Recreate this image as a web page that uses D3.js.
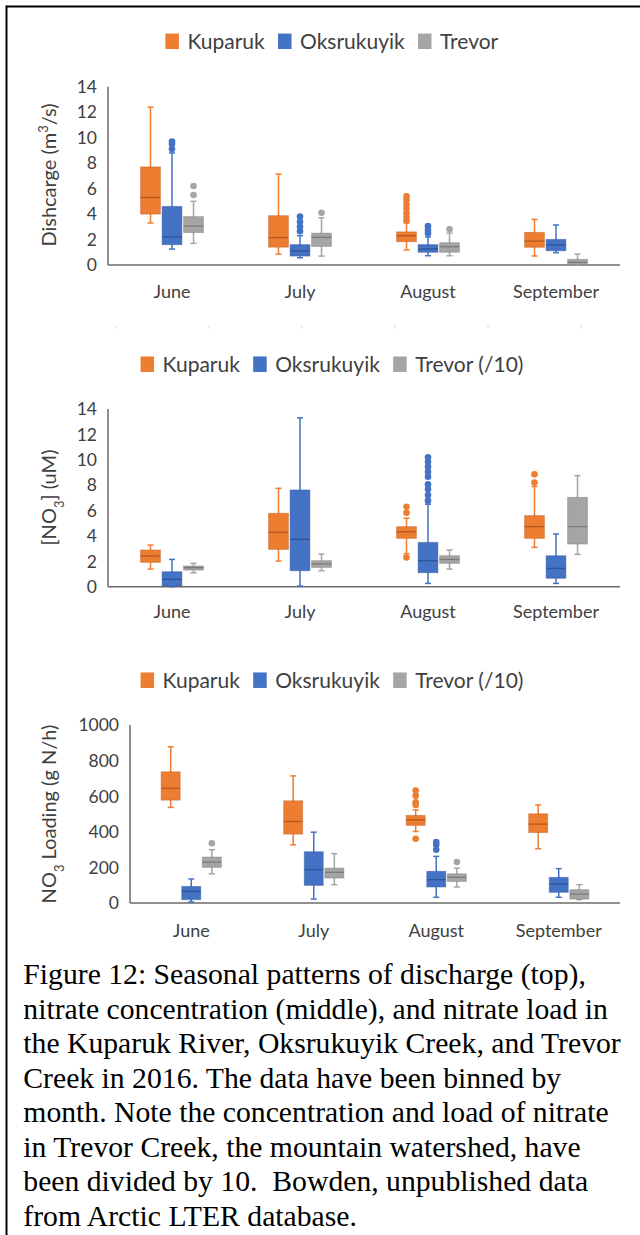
<!DOCTYPE html>
<html>
<head>
<meta charset="utf-8">
<script src="https://cdn.jsdelivr.net/npm/d3@7"></script>
<style>
  html, body { margin: 0; padding: 0; background: #fff; }
  svg { display: block; }
</style>
</head>
<body>
<svg id="fig" width="640" height="1235"></svg>
<script>
// categories
const months = ["June", "July", "August", "September"];
const streams = ["Kuparuk", "Oksrukuyik", "Trevor"];
const colors = ["#ED7D31", "#4472C4", "#A5A5A5"];
const medianColors = ["#b8561c", "#2f5597", "#7b7b7b"];

// legend labels per panel
const legendTop = ["Kuparuk", "Oksrukuyik", "Trevor"];
const legendDiv = ["Kuparuk", "Oksrukuyik", "Trevor (/10)"];

// y ticks
const ticks14 = [0, 2, 4, 6, 8, 10, 12, 14];
const ticks1000 = [0, 200, 400, 600, 800, 1000];

// month, stream, whisker low, q1, median, q3, whisker high
const dischargeBoxes = [
  ["June", "Kuparuk", 3.3, 4.0, 5.3, 7.7, 12.4],
  ["June", "Oksrukuyik", 1.25, 1.6, 2.2, 4.6, 8.8],
  ["June", "Trevor", 1.7, 2.55, 3.05, 3.8, 5.0],
  ["July", "Kuparuk", 0.86, 1.4, 2.15, 3.87, 7.14],
  ["July", "Oksrukuyik", 0.57, 0.7, 1.1, 1.6, 2.3],
  ["July", "Trevor", 0.7, 1.46, 2.17, 2.5, 3.7],
  ["August", "Kuparuk", 1.18, 1.83, 2.3, 2.6, 3.3],
  ["August", "Oksrukuyik", 0.73, 1.0, 1.26, 1.6, 2.2],
  ["August", "Trevor", 0.73, 1.0, 1.44, 1.75, 2.5],
  ["September", "Kuparuk", 0.71, 1.39, 1.88, 2.56, 3.58],
  ["September", "Oksrukuyik", 0.97, 1.12, 1.57, 2.01, 3.14],
  ["September", "Trevor", 0, 0.05, 0.21, 0.44, 0.86]
];
const dischargeOutliers = [
  ["June", "Oksrukuyik", [9.1, 9.5, 9.7]],
  ["June", "Trevor", [5.5, 6.2]],
  ["July", "Oksrukuyik", [2.65, 3.0, 3.4, 3.8]],
  ["July", "Trevor", [4.1]],
  ["August", "Kuparuk", [3.5, 3.8, 4.1, 4.45, 4.75, 5.1, 5.4]],
  ["August", "Oksrukuyik", [2.5, 2.75, 3.05]],
  ["August", "Trevor", [2.8]]
];

const nitrateBoxes = [
  ["June", "Kuparuk", 1.39, 1.92, 2.42, 2.89, 3.28],
  ["June", "Oksrukuyik", 0, 0.05, 0.58, 1.18, 2.15],
  ["June", "Trevor", 1.1, 1.31, 1.5, 1.63, 1.84],
  ["July", "Kuparuk", 2.02, 2.94, 4.28, 5.78, 7.75],
  ["July", "Oksrukuyik", 0.05, 1.26, 3.73, 7.62, 13.3],
  ["July", "Trevor", 1.26, 1.52, 1.79, 2.05, 2.57],
  ["August", "Kuparuk", 2.6, 3.81, 4.33, 4.73, 5.4],
  ["August", "Oksrukuyik", 0.26, 1.1, 2.05, 3.49, 6.5],
  ["August", "Trevor", 1.39, 1.84, 2.15, 2.44, 2.89],
  ["September", "Kuparuk", 3.1, 3.81, 4.73, 5.6, 7.9],
  ["September", "Oksrukuyik", 0.26, 0.66, 1.44, 2.44, 4.15],
  ["September", "Trevor", 2.55, 3.36, 4.73, 7.04, 8.75]
];
const nitrateOutliers = [
  ["August", "Kuparuk", [2.3, 5.83, 6.3]],
  ["August", "Oksrukuyik", [6.78, 7.22, 7.67, 8.06, 8.67, 9.06, 9.46, 9.85, 10.2]],
  ["September", "Kuparuk", [8.2, 8.85]]
];

const loadBoxes = [
  ["June", "Kuparuk", 537, 578, 644, 737, 878],
  ["June", "Oksrukuyik", 6, 19, 65, 93, 135],
  ["June", "Trevor", 164, 200, 230, 258, 299],
  ["July", "Kuparuk", 327, 387, 458, 574, 714],
  ["July", "Oksrukuyik", 22, 99, 187, 288, 398],
  ["July", "Trevor", 103, 140, 172, 196, 277],
  ["August", "Kuparuk", 402, 436, 467, 492, 523],
  ["August", "Oksrukuyik", 32, 90, 131, 178, 262],
  ["August", "Trevor", 90, 121, 144, 164, 196],
  ["September", "Kuparuk", 305, 396, 443, 501, 551],
  ["September", "Oksrukuyik", 32, 60, 107, 144, 193],
  ["September", "Trevor", 19, 22, 50, 75, 103]
];
const loadOutliers = [
  ["June", "Trevor", [336]],
  ["August", "Kuparuk", [361, 551, 566, 602, 632]],
  ["August", "Oksrukuyik", [299, 327, 342]],
  ["August", "Trevor", [230]]
];

const captionLines = [
  "Figure 12: Seasonal patterns of discharge (top),",
  "nitrate concentration (middle), and nitrate load in",
  "the Kuparuk River, Oksrukuyik Creek, and Trevor",
  "Creek in 2016. The data have been binned by",
  "month. Note the concentration and load of nitrate",
  "in Trevor Creek, the mountain watershed, have",
  "been divided by 10.  Bowden, unpublished data",
  "from Arctic LTER database."
];

let svg = d3.select("#fig");
let textColor = "#404040";
let chartFont = "Lato, 'Open Sans', sans-serif";

// frame
svg.append("line").attr("x1", 6.5).attr("x2", 640).attr("y1", 6.5).attr("y2", 6.5)
  .attr("stroke", "#000").attr("stroke-width", 2);
svg.append("line").attr("x1", 6.5).attr("x2", 6.5).attr("y1", 5.5).attr("y2", 1235)
  .attr("stroke", "#000").attr("stroke-width", 2);

// faint handle marks between panels
svg.append("g").selectAll("line")
  .data(d3.range(6))
  .join("line")
  .attr("x1", i => 116 + i * 93).attr("x2", i => 116 + i * 93)
  .attr("y1", 325.5).attr("y2", 328.5)
  .attr("stroke", "#d6d6d6").attr("stroke-width", 1);

let panels = [
  {boxes: dischargeBoxes, outliers: dischargeOutliers, legend: legendTop, ticks: ticks14, max: 14,
   left: 108, right: 620, top: 86.7, bottom: 265, legendY: 41.3, monthY: 298.3, titleY: 175,
   title: [["Dishcarge (m", 0], ["3", 1], ["/s)", 0]]},
  {boxes: nitrateBoxes, outliers: nitrateOutliers, legend: legendDiv, ticks: ticks14, max: 14,
   left: 108, right: 620, top: 409, bottom: 586.7, legendY: 364.2, monthY: 618.3, titleY: 497.5,
   title: [["[NO", 0], ["3", -1], ["] (uM)", 0]]},
  {boxes: loadBoxes, outliers: loadOutliers, legend: legendDiv, ticks: ticks1000, max: 1000,
   left: 130, right: 620, top: 725, bottom: 903, legendY: 680.2, monthY: 936.7, titleY: 814,
   title: [["NO", 0], ["3", -1], [" Loading (g N/h)", 0]]}
];

panels.forEach(drawPanel);

function drawPanel(p){
  let g = svg.append("g").attr("font-family", chartFont);

  let x = d3.scaleBand(months, [p.left, p.right]);
  let step = x.bandwidth() * 0.168;
  let xs = d3.scaleBand(streams, [-1.5 * step, 1.5 * step]);
  let bw = step * 0.92;
  let y = d3.scaleLinear([0, p.max], [p.bottom, p.top]);
  let cx = (m, s) => x(m) + x.bandwidth() / 2 + xs(s) + xs.bandwidth() / 2;

  // axis lines
  g.append("line").attr("x1", p.left).attr("x2", p.left).attr("y1", y(p.max)).attr("y2", y(0))
    .attr("stroke", "#6b6b6b").attr("stroke-width", 1.5);
  g.append("line").attr("x1", p.left).attr("x2", p.right).attr("y1", y(0)).attr("y2", y(0))
    .attr("stroke", "#6b6b6b").attr("stroke-width", 1.5);

  // y tick labels
  g.append("g").selectAll("text")
    .data(p.ticks)
    .join("text")
    .attr("x", p.left - 11)
    .attr("y", d => y(d))
    .attr("dy", "0.36em")
    .attr("text-anchor", "end")
    .attr("font-size", 17.5)
    .attr("fill", textColor)
    .text(d => d);

  // month labels
  g.append("g").selectAll("text")
    .data(months)
    .join("text")
    .attr("x", d => x(d) + x.bandwidth() / 2)
    .attr("y", p.monthY)
    .attr("text-anchor", "middle")
    .attr("font-size", 18)
    .attr("fill", textColor)
    .text(d => d);

  // y title
  let t = g.append("text")
    .attr("transform", `translate(49,${p.titleY}) rotate(-90)`)
    .attr("text-anchor", "middle")
    .attr("dy", "0.35em")
    .attr("font-size", 20)
    .attr("fill", textColor);
  p.title.forEach(([s, shift]) => {
    let ts = t.append("tspan").text(s);
    if(shift != 0){
      ts.attr("font-size", 13).attr("baseline-shift", shift > 0 ? "super" : "sub");
    }
  });

  // boxes
  let rows = p.boxes.map(([m, s, lo, q1, med, q3, hi]) => ({m, s, lo, q1, med, q3, hi, c: streams.indexOf(s)}));
  let bg = g.append("g").selectAll("g").data(rows).join("g");

  bg.append("line") // whisker
    .attr("x1", d => cx(d.m, d.s)).attr("x2", d => cx(d.m, d.s))
    .attr("y1", d => y(d.lo)).attr("y2", d => y(d.hi))
    .attr("stroke", d => colors[d.c]).attr("stroke-width", 1.5);
  bg.selectAll("line.cap")
    .data(d => [d.lo, d.hi].map(v => ({v, d})))
    .join("line").attr("class", "cap")
    .attr("x1", e => cx(e.d.m, e.d.s) - 3).attr("x2", e => cx(e.d.m, e.d.s) + 3)
    .attr("y1", e => y(e.v)).attr("y2", e => y(e.v))
    .attr("stroke", e => colors[e.d.c]).attr("stroke-width", 1.5);
  bg.append("rect")
    .attr("x", d => cx(d.m, d.s) - bw / 2)
    .attr("width", bw)
    .attr("y", d => y(d.q3))
    .attr("height", d => Math.max(1, y(d.q1) - y(d.q3)))
    .attr("fill", d => colors[d.c])
    .attr("stroke", d => medianColors[d.c]).attr("stroke-opacity", 0.45).attr("stroke-width", 1);
  bg.append("line") // median
    .attr("x1", d => cx(d.m, d.s) - bw / 2).attr("x2", d => cx(d.m, d.s) + bw / 2)
    .attr("y1", d => y(d.med)).attr("y2", d => y(d.med))
    .attr("stroke", d => medianColors[d.c]).attr("stroke-width", 1.3);

  // outliers
  let pts = p.outliers.flatMap(([m, s, vals]) => vals.map(v => ({m, s, v, c: streams.indexOf(s)})));
  g.append("g").selectAll("circle")
    .data(pts)
    .join("circle")
    .attr("cx", d => cx(d.m, d.s))
    .attr("cy", d => y(d.v))
    .attr("r", 3.3)
    .attr("fill", d => colors[d.c]);

  // legend, centred on the panel
  let lg = g.append("g");
  let items = lg.selectAll("g").data(p.legend).join("g");
  items.append("rect")
    .attr("width", 13.5).attr("height", 15.5)
    .attr("y", p.legendY - 7.75)
    .attr("fill", (d, i) => colors[i]);
  items.append("text")
    .attr("x", 22)
    .attr("y", p.legendY + 7.3)
    .attr("font-size", 21)
    .attr("fill", textColor)
    .text(d => d);
  let xpos = 0;
  let offsets = [];
  items.each(function(){
    offsets.push(xpos);
    xpos += this.getBBox().width + 13;
  });
  let total = xpos - 13;
  let start = 332 - total / 2;
  items.attr("transform", (d, i) => `translate(${start + offsets[i]},0)`);
}

// caption
svg.append("g")
  .attr("font-family", "'Liberation Serif', 'Times New Roman', serif")
  .attr("font-size", 29.7)
  .attr("fill", "#000")
  .selectAll("text")
  .data(captionLines)
  .join("text")
  .attr("x", 23.3)
  .attr("y", (d, i) => 984 + i * 34.5)
  .style("white-space", "pre")
  .text(d => d);
</script>
</body>
</html>
